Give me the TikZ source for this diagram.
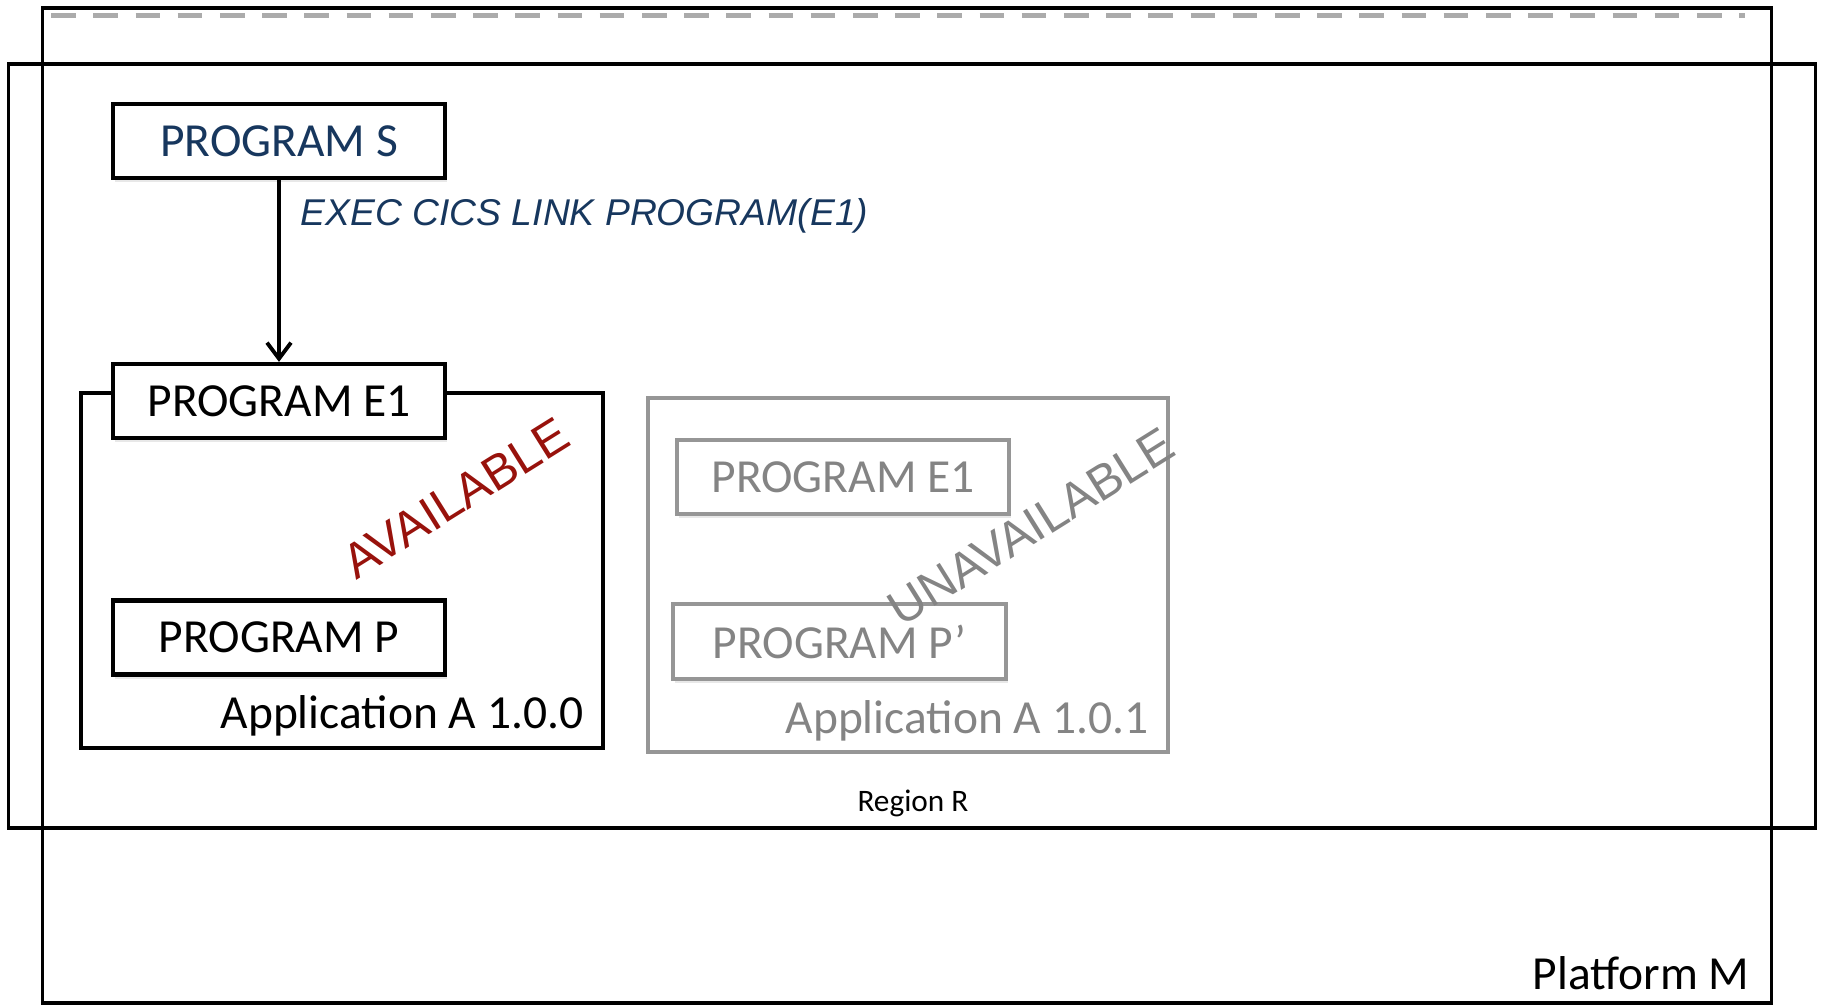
\documentclass[tikz,border=0pt]{standalone}
\usepackage{fontspec}
\setmainfont{Carlito}
\newfontfamily\arialfont{Liberation Sans}
\usepackage{xcolor}
\definecolor{navy}{RGB}{23,55,94}
\definecolor{darkred}{RGB}{152,18,12}
\definecolor{greyline}{RGB}{150,150,150}
\definecolor{greytext}{RGB}{132,132,132}
\usepackage{tikz}
\usetikzlibrary{
    arrows.meta,
    positioning,
    shadows
}

\begin{document}
\begin{tikzpicture}[x=0.01cm, y=-0.01cm,
        outer/.style={rectangle, draw=black, line width=1.1pt, inner sep=0pt},
        prog/.style={rectangle, draw=#1, fill=white, line width=1.2pt, minimum width=3.32cm, minimum height=0.74cm, inner sep=0pt, font=\fontsize{13.5}{16}\selectfont, drop shadow={opacity=0.18, shadow xshift=0.6pt, shadow yshift=-1.2pt}},
        prog/.default=black,
        appbox/.style={rectangle, draw=#1, line width=1.2pt, inner sep=0pt},
        apptext/.style={anchor=east, inner sep=0pt, font=\fontsize{13.5}{16}\selectfont, text=#1},
        stamp/.style={rotate=32, inner sep=0pt, font=\arialfont\fontsize{13.9}{16}\selectfont, text=#1},
        arrow/.style={-{Straight Barb[length=1.6mm, width=2.4mm]}, line width=1.1pt}
    ]
        \useasboundingbox (0,0) rectangle (1823,1005);

        \node[outer, minimum width=17.28cm, minimum height=9.95cm] (platform) at (907,505.5) {};
        \draw[greyline!80, line width=1.3pt, dash pattern=on 7pt off 5pt] ([yshift=-2.8pt, xshift=3pt]platform.north west) -- ([yshift=-2.8pt, xshift=-8pt]platform.north east);
        \node[outer, minimum width=18.06cm, minimum height=7.64cm] (region) at (912,446) {};

        \node[appbox=black, minimum width=5.22cm, minimum height=3.55cm] (appA) at (342,570.5) {};
        \node[appbox=greyline, minimum width=5.20cm, minimum height=3.54cm] (appB) at (908,575) {};

        \node[prog, text=navy] (progS) at (279,141) {PROGRAM S};
        \node[prog] (progE) at (279,401) {PROGRAM E1};
        \node[prog] (progP) at (279,637.5) {PROGRAM P};
        \node[prog=greyline, text=greytext] (progEnew) at (843,477) {PROGRAM E1};
        \node[prog=greyline, text=greytext, minimum width=3.33cm, minimum height=0.75cm] (progPnew) at (839.5,641.5) {PROGRAM P’};

        \node[anchor=west, inner sep=0pt, font=\arialfont\itshape\fontsize{10.6}{13}\selectfont, text=navy] (link) at (300,216) {EXEC CICS LINK PROGRAM(E1)};
        \node[stamp=darkred] (avail) at (456,498) {AVAILABLE};
        \node[stamp=greytext] (unavail) at (1031,527) {UNAVAILABLE};

        \node[apptext=black] (appAlabel) at (584,716) {Application A 1.0.0};
        \node[apptext=greytext] (appBlabel) at (1149,721) {Application A 1.0.1};
        \node[font=\fontsize{8.9}{11}\selectfont] (regionlabel) at (913,803) {Region R};
        \node[apptext=black] (platformlabel) at (1750,973) {Platform M};

        \draw[arrow] (progS) -- (progE);
    \end{tikzpicture}
\end{document}
